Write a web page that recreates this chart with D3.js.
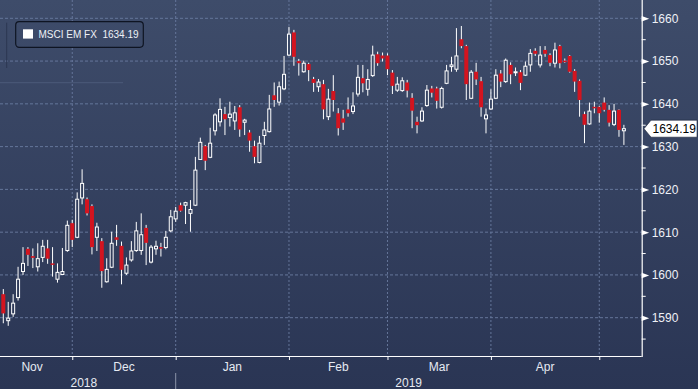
<!DOCTYPE html>
<html>
<head>
<meta charset="utf-8">
<script src="https://cdn.jsdelivr.net/npm/d3@7"></script>
<style>
  html, body { margin: 0; padding: 0; background: #33405f; }
  svg { display: block; font-family: "Liberation Sans", Arial, sans-serif; }
</style>
</head>
<body>
<svg id="chart" width="698" height="389"></svg>
<script>
// MSCI EM FX daily candles, Nov 13 2018 -> May 8 2019 (weekdays)

const startDay = new Date(2018, 10, 13);
const endDay = new Date(2019, 4, 8);

// open / high / low / close, one entry per weekday
const opens = [1595.5,1589.3,1590.9,1594.7,1600.8,1606.1,1604.4,1601.9,1604.1,1606.2,
  1602.7,1599.0,1600.1,1605.7,1612.1,1608.8,1618.0,1617.7,1616.1,1608.8,
  1607.9,1598.4,1601.8,1608.8,1606.8,1600.4,1603.5,1605.7,1605.7,1611.0,
  1603.0,1606.1,1606.5,1606.4,1610.3,1613.1,1616.3,1616.3,1614.4,1616.3,
  1627.0,1630.1,1627.5,1633.7,1635.8,1637.6,1636.8,1636.0,1639.2,1635.7,
  1633.3,1630.1,1626.3,1632.6,1633.5,1642.0,1640.4,1643.5,1651.4,1656.7,
  1650.0,1647.5,1649.3,1645.8,1644.0,1644.6,1637.0,1643.0,1637.8,1636.6,
  1638.7,1638.2,1642.3,1646.0,1643.4,1646.6,1651.6,1651.3,1651.3,1647.3,
  1643.2,1643.1,1645.0,1641.4,1635.8,1636.0,1639.6,1643.6,1643.6,1639.2,
  1644.8,1648.7,1648.1,1655.1,1653.5,1641.3,1647.5,1645.3,1636.5,1638.8,
  1641.3,1647.1,1645.2,1649.1,1647.3,1647.4,1646.7,1649.1,1652.4,1649.1,
  1652.6,1651.4,1649.5,1653.5,1650.1,1651.2,1647.7,1645.4,1637.6,1635.3,
  1639.3,1639.3,1640.3,1638.6,1635.2,1638.6,1633.7];
const highs = [1596.7,1593.7,1595.5,1601.9,1606.5,1606.5,1606.2,1607.4,1608.2,1608.2,
  1606.5,1602.7,1606.3,1612.7,1612.9,1619.3,1624.7,1618.1,1616.5,1612.2,
  1608.6,1603.9,1610.1,1611.7,1607.8,1604.1,1607.9,1612.4,1614.4,1611.7,
  1607.0,1608.0,1607.5,1610.3,1615.2,1615.9,1616.9,1617.1,1617.5,1627.6,
  1632.1,1630.4,1634.4,1637.8,1641.3,1639.3,1640.5,1639.5,1639.7,1636.5,
  1633.9,1631.4,1632.5,1635.8,1642.1,1645.0,1645.2,1651.2,1658.0,1657.3,
  1650.5,1650.1,1649.6,1646.3,1645.8,1645.6,1643.5,1646.7,1639.0,1638.6,
  1641.5,1642.7,1649.1,1649.1,1648.1,1653.6,1652.2,1652.0,1651.8,1647.9,
  1646.3,1646.2,1645.6,1642.5,1637.0,1639.2,1644.4,1644.2,1644.0,1644.0,
  1649.1,1651.0,1657.7,1658.2,1653.8,1647.9,1649.6,1646.3,1638.9,1643.4,
  1648.1,1647.9,1650.6,1649.7,1648.5,1647.9,1649.9,1652.8,1653.0,1653.5,
  1653.5,1651.8,1654.3,1653.8,1650.6,1651.4,1648.1,1645.7,1638.2,1640.3,
  1640.5,1639.5,1641.5,1639.7,1640.0,1638.7,1635.1];
const lows = [1588.7,1588.1,1590.2,1594.0,1600.0,1602.1,1601.6,1600.8,1603.0,1602.6,
  1599.6,1598.2,1600.0,1605.4,1606.5,1608.6,1616.5,1613.9,1604.8,1605.6,
  1597.0,1598.2,1601.6,1606.8,1597.8,1600.0,1603.1,1605.4,1604.7,1602.3,
  1602.7,1604.7,1604.3,1606.0,1610.0,1612.4,1614.8,1611.9,1610.1,1616.1,
  1626.9,1624.5,1627.3,1632.6,1634.7,1632.7,1634.7,1633.9,1632.3,1632.7,
  1628.8,1626.1,1626.1,1630.4,1633.3,1639.3,1639.6,1643.2,1651.2,1648.9,
  1646.6,1647.3,1645.3,1642.8,1642.8,1636.4,1636.2,1638.2,1632.6,1633.9,
  1637.0,1637.6,1641.7,1642.7,1641.9,1646.3,1648.9,1649.9,1646.7,1642.3,
  1642.8,1642.8,1641.5,1634.3,1633.1,1635.8,1639.3,1641.5,1638.9,1638.9,
  1644.6,1647.5,1647.5,1653.0,1640.9,1641.1,1644.4,1637.0,1633.1,1638.6,
  1641.1,1643.9,1644.9,1644.6,1646.5,1643.2,1646.5,1647.5,1651.2,1648.5,
  1651.0,1648.8,1648.5,1648.3,1649.6,1647.3,1642.8,1637.0,1630.8,1635.1,
  1637.8,1635.6,1638.2,1634.7,1634.8,1632.3,1630.4];
const closes = [1591.0,1589.9,1593.4,1599.0,1602.7,1604.7,1604.0,1603.8,1606.7,1603.8,
  1602.4,1600.6,1600.8,1611.6,1608.2,1617.7,1621.4,1614.4,1606.5,1611.2,
  1600.9,1601.3,1607.4,1608.2,1601.2,1602.3,1605.6,1610.3,1609.4,1607.5,
  1606.5,1606.7,1606.2,1608.8,1613.6,1614.9,1615.0,1616.9,1615.3,1624.5,
  1631.0,1626.7,1630.8,1637.4,1638.7,1636.4,1637.6,1637.9,1634.0,1636.2,
  1631.4,1627.6,1630.8,1633.9,1638.8,1640.9,1644.0,1646.9,1656.3,1651.0,
  1649.5,1649.5,1647.9,1644.9,1645.1,1638.7,1641.1,1640.9,1634.3,1635.6,
  1637.8,1639.5,1646.2,1644.8,1645.7,1651.4,1649.5,1650.6,1648.1,1644.2,
  1644.6,1645.4,1643.1,1638.4,1635.0,1638.3,1643.2,1642.6,1640.7,1643.6,
  1647.7,1649.1,1651.2,1653.5,1644.6,1647.4,1645.7,1639.2,1637.4,1641.1,
  1646.7,1645.2,1650.2,1646.9,1647.5,1644.9,1648.8,1651.8,1651.7,1651.4,
  1651.7,1649.6,1652.6,1649.5,1649.9,1647.5,1645.2,1640.9,1635.1,1638.3,
  1639.1,1637.8,1638.6,1635.6,1638.3,1633.9,1634.19];

const yTicks = [1590, 1600, 1610, 1620, 1630, 1640, 1650, 1660];
const yMinorTicks = [1585, 1595, 1605, 1615, 1625, 1635, 1645, 1655];
const seriesName = "MSCI EM FX";

// layout
const W = 698, H = 389;
const plotRight = 641.7, plotBottom = 356;
const upColor = "#ffffff", downColor = "#d3141f";
const gridColor = "#65769a";

const days = d3.timeDay.range(startDay, d3.timeDay.offset(endDay, 1))
  .filter(d => d.getDay() !== 0 && d.getDay() !== 6);

const candles = days.map((d, i) => ({
  date: d, i: i, open: opens[i], high: highs[i], low: lows[i], close: closes[i]
}));

const x = d3.scaleLinear().domain([0, candles.length - 1]).range([3.3, 623.9]);
const y = d3.scaleLinear().domain([1590, 1660]).range([317.7, 18.3]);

// first weekday of each month -> tick
const monthStarts = candles.filter((d, i) => i > 0 && d.date.getMonth() !== candles[i - 1].date.getMonth());

const svg = d3.select("#chart");

// background gradient (user space so the legend box can reuse it)
const defs = svg.append("defs");
const bg = defs.append("linearGradient")
  .attr("id", "bg")
  .attr("gradientUnits", "userSpaceOnUse")
  .attr("x1", 0).attr("y1", 0).attr("x2", 0).attr("y2", H);
bg.append("stop").attr("offset", "0%").attr("stop-color", "#3e4c6a");
bg.append("stop").attr("offset", "100%").attr("stop-color", "#2a3554");

svg.append("rect")
  .attr("width", W).attr("height", H)
  .attr("fill", "url(#bg)");

/*
** grid
*/
const grid = svg.append("g").attr("class", "grid");

grid.selectAll(".hgrid")
  .data(yTicks)
  .enter().append("line")
    .attr("class", "hgrid")
    .attr("x1", 0).attr("x2", plotRight)
    .attr("y1", d => y(d)).attr("y2", d => y(d))
    .attr("stroke", gridColor)
    .attr("stroke-width", 1)
    .attr("stroke-dasharray", "3,2");

grid.selectAll(".vgrid")
  .data(monthStarts)
  .enter().append("line")
    .attr("class", "vgrid")
    .attr("x1", d => x(d.i)).attr("x2", d => x(d.i))
    .attr("y1", 0).attr("y2", plotBottom)
    .attr("stroke", gridColor)
    .attr("stroke-width", 1)
    .attr("stroke-dasharray", "2,2");

// faint leftovers in the original screenshot
svg.append("line")
  .attr("x1", 6.7).attr("x2", 6.7).attr("y1", 22.7).attr("y2", 68)
  .attr("stroke", "#2c3752").attr("stroke-width", 1);
svg.append("line")
  .attr("x1", 0).attr("x2", 123).attr("y1", 82.7).attr("y2", 82.7)
  .attr("stroke", "#4c5a79").attr("stroke-width", 1);

/*
** candles
*/
const candleGroup = svg.append("g").attr("class", "candles");

const candleEnter = candleGroup.selectAll(".candle")
  .data(candles)
  .enter().append("g")
    .attr("class", "candle");

candleEnter.append("line")
  .attr("x1", d => x(d.i)).attr("x2", d => x(d.i))
  .attr("y1", d => y(d.high)).attr("y2", d => y(d.low))
  .attr("stroke", "#ffffff")
  .attr("stroke-width", 1);

// rising: hollow white body
candleEnter.filter(d => d.close >= d.open)
  .append("rect")
    .attr("x", d => x(d.i) - 1.5)
    .attr("width", 3)
    .attr("y", d => y(d.close))
    .attr("height", d => Math.max(1, y(d.open) - y(d.close)))
    .attr("fill", "url(#bg)")
    .attr("stroke", upColor)
    .attr("stroke-width", 1);

// falling: solid red body
candleEnter.filter(d => d.close < d.open)
  .append("rect")
    .attr("x", d => x(d.i) - 2)
    .attr("width", 4)
    .attr("y", d => y(d.open))
    .attr("height", d => Math.max(1.5, y(d.close) - y(d.open)))
    .attr("fill", downColor);

/*
** x axis
*/
const xAxisGroup = svg.append("g")
  .attr("class", "x-axis")
  .attr("transform", `translate(0,${plotBottom})`);

xAxisGroup.call(d3.axisBottom(x)
  .tickValues(monthStarts.map(d => d.i))
  .tickSize(4)
  .tickFormat(""));
xAxisGroup.select(".domain").remove();
xAxisGroup.selectAll(".tick line").attr("stroke", "#ffffff");

xAxisGroup.append("line")
  .attr("x1", 0).attr("x2", plotRight)
  .attr("y1", 0.5).attr("y2", 0.5)
  .attr("stroke", "#ffffff")
  .attr("stroke-width", 1.2);

// month labels centred between ticks (first month's range starts a bit left of the frame)
const labelLeft = x(-2.3);
const bounds = [labelLeft, ...monthStarts.map(d => x(d.i))];
const monthFmt = d3.timeFormat("%b");
const monthLabels = bounds.slice(0, -1).map((b, k) => ({
  text: monthFmt(k === 0 ? candles[0].date : monthStarts[k - 1].date),
  cx: (b + bounds[k + 1]) / 2
}));

svg.selectAll(".month-label")
  .data(monthLabels)
  .enter().append("text")
    .attr("class", "month-label")
    .attr("x", d => d.cx)
    .attr("y", 370.5)
    .attr("text-anchor", "middle")
    .attr("font-size", "12px")
    .attr("fill", "#e6eaf2")
    .text(d => d.text);

// year labels
const janTick = monthStarts.find(d => d.date.getMonth() === 0);
const yearLabels = [
  { text: String(candles[0].date.getFullYear()), cx: (labelLeft + x(janTick.i)) / 2 },
  { text: String(janTick.date.getFullYear()), cx: (x(janTick.i) + plotRight) / 2 }
];

svg.selectAll(".year-label")
  .data(yearLabels)
  .enter().append("text")
    .attr("class", "year-label")
    .attr("x", d => d.cx)
    .attr("y", 386.5)
    .attr("text-anchor", "middle")
    .attr("font-size", "12px")
    .attr("fill", "#e6eaf2")
    .text(d => d.text);

svg.append("line")
  .attr("x1", x(janTick.i)).attr("x2", x(janTick.i))
  .attr("y1", 373).attr("y2", H)
  .attr("stroke", "#8a93a8")
  .attr("stroke-width", 1);

/*
** y axis (right)
*/
const yAxisGroup = svg.append("g")
  .attr("class", "y-axis")
  .attr("transform", `translate(${plotRight},0)`);

yAxisGroup.call(d3.axisRight(y)
  .tickValues(yTicks)
  .tickSize(0)
  .tickPadding(10)
  .tickFormat(d3.format("d")));
yAxisGroup.select(".domain").remove();
yAxisGroup.selectAll(".tick text")
  .attr("font-size", "12px")
  .attr("font-family", "Liberation Sans, Arial, sans-serif")
  .attr("fill", "#eef1f6");
yAxisGroup.selectAll(".tick")
  .append("path")
    .attr("d", "M0,-2.7 L7.5,0 L0,2.7 Z")
    .attr("fill", "#ffffff");

yAxisGroup.selectAll(".minor")
  .data(yMinorTicks)
  .enter().append("line")
    .attr("class", "minor")
    .attr("x1", 0).attr("x2", 4)
    .attr("y1", d => y(d)).attr("y2", d => y(d))
    .attr("stroke", "#ffffff");

yAxisGroup.append("line")
  .attr("x1", 0.5).attr("x2", 0.5)
  .attr("y1", 0).attr("y2", plotBottom + 1)
  .attr("stroke", "#ffffff")
  .attr("stroke-width", 1.2);

// last price flag
const last = candles[candles.length - 1];
const ly = y(last.close);
svg.append("path")
  .attr("d", `M644,${ly} L651,${ly - 8.5} L697,${ly - 8.5} L697,${ly + 8.5} L651,${ly + 8.5} Z`)
  .attr("fill", "#ffffff")
  .attr("stroke", "#1a2236")
  .attr("stroke-width", 0.6)
  .attr("stroke-linejoin", "round");
svg.append("text")
  .attr("x", 652.5)
  .attr("y", ly)
  .attr("dy", "0.36em")
  .attr("font-size", "12px")
  .attr("fill", "#000000")
  .text(d3.format(".2f")(last.close));

/*
** legend
*/
const legend = svg.append("g").attr("class", "legend");
legend.append("rect")
  .attr("x", 15.7).attr("y", 21.7)
  .attr("width", 127.6).attr("height", 25.6)
  .attr("rx", 3.5)
  .attr("fill", "url(#bg)")
  .attr("stroke", "#0e1422")
  .attr("stroke-width", 1.2);
legend.append("rect")
  .attr("x", 23).attr("y", 29.3)
  .attr("width", 10).attr("height", 9.3)
  .attr("fill", "#ffffff");
legend.append("text")
  .attr("x", 38.5)
  .attr("y", 38.4)
  .attr("font-size", "10px")
  .attr("fill", "#eef1f6")
  .style("white-space", "pre")
  .text(`${seriesName}  ${d3.format(".2f")(last.close)}`);
</script>
</body>
</html>
